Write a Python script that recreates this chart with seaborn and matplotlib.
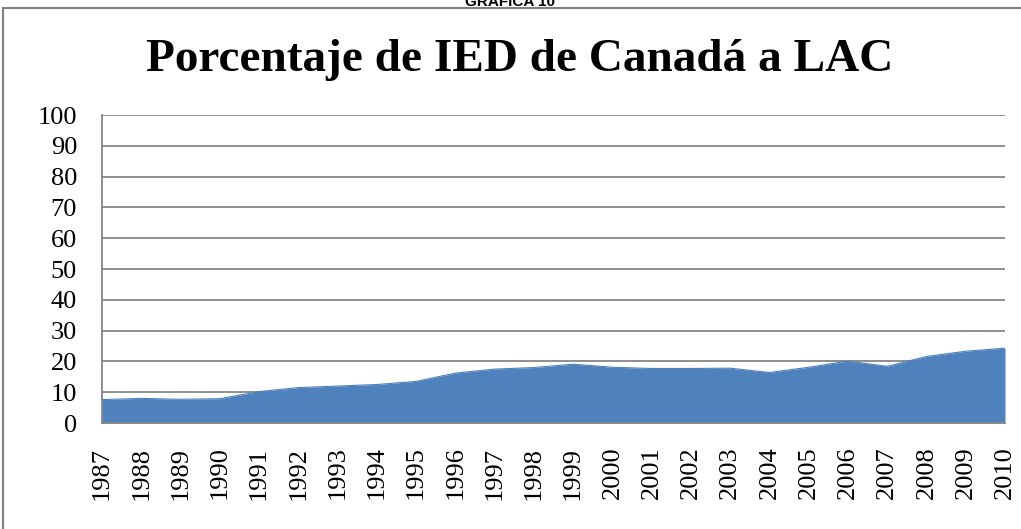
import matplotlib
matplotlib.use("Agg")
import matplotlib.pyplot as plt
import seaborn as sns
import pandas as pd
from matplotlib.patches import Rectangle

years = list(range(1987, 2011))
values = [7.6, 8.0, 7.7, 7.9, 10.2, 11.5, 12.0, 12.5, 13.5, 16.2, 17.5, 18.0,
          19.1, 18.1, 17.7, 17.7, 17.8, 16.4, 18.1, 20.1, 18.4, 21.6, 23.3, 24.3]
yticks = list(range(0, 101, 10))
title = "Porcentaje de IED de Canadá a LAC"
header = "GRÁFICA 10"

sns.set_theme(style="white")
plt.rcParams["font.family"] = ["Liberation Serif", "DejaVu Serif"]
plt.rcParams["text.color"] = "black"

df = pd.DataFrame({"year": years, "value": values})
color = "#4F81BD"
grid_c = "#868686"

fig = plt.figure(figsize=(10.21, 5.29), dpi=100)
ax = fig.add_axes([102 / 1021, 106 / 529, (1005 - 102) / 1021, (423 - 115) / 529])

for y in yticks[1:]:
    ax.axhline(y, color=grid_c, lw=1.3, zorder=1)

sns.lineplot(data=df, x="year", y="value", ax=ax, color=color, lw=0.8, zorder=3)
ax.fill_between(df["year"], 0, df["value"], color=color, lw=0, zorder=2)

ax.set_xlim(1987, 2010)
ax.set_ylim(0, 100)
ax.set_xticks(years)
ax.set_xticklabels([str(y) for y in years], rotation=90, fontsize=19)
ax.set_yticks(yticks)
ax.set_yticklabels([str(y) for y in yticks], fontsize=19)
ax.set_xlabel("")
ax.set_ylabel("")
for s in ["top", "right"]:
    ax.spines[s].set_visible(False)
for s in ["left", "bottom"]:
    ax.spines[s].set_color(grid_c)
    ax.spines[s].set_linewidth(1.3)
ax.tick_params(axis="both", direction="out", length=6, width=1.3, color=grid_c,
               labelcolor="black")
ax.tick_params(axis="y", pad=12)
ax.tick_params(axis="x", pad=11)
ax.grid(False)

fig.text(520 / 1021, 1 - 71 / 529, title, ha="center", va="baseline",
         fontsize=34, fontweight="bold", color="black")
fig.text(510 / 1021, 1 - 6 / 529, header, ha="center", va="baseline",
         fontsize=11, fontweight="bold", family="Liberation Sans", color="black")

fig.patches.append(Rectangle((3 / 1021, -0.1), 1.1, 1 - 8 / 529 + 0.1,
                             transform=fig.transFigure, fill=False,
                             edgecolor="#7f7f7f", lw=1.5))

fig.savefig("out.png", dpi=100)
